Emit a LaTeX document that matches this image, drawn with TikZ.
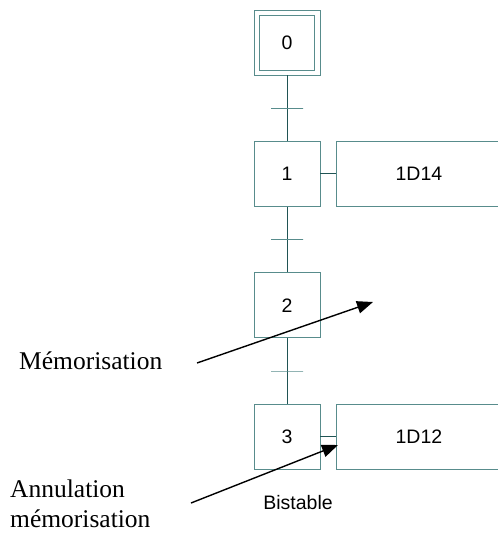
\documentclass[tikz,border=0pt]{standalone}
\usepackage{fontspec}
\setmainfont{Liberation Sans}
\newfontfamily\timesfont{Liberation Serif}
\usetikzlibrary{positioning, arrows.meta, calc}

\definecolor{grafbox}{RGB}{88,140,140}
\definecolor{grafline}{RGB}{32,84,84}

\begin{document}
\begin{tikzpicture}[
    x=1pt, y=-1pt,
    font=\fontsize{19.5}{23}\selectfont,
    stepbox/.style={draw=grafbox, line width=0.9pt, minimum width=66pt,
                    minimum height=65pt, inner sep=0pt},
    actbox/.style={draw=grafbox, line width=0.9pt, minimum width=164pt,
                   minimum height=65pt, inner sep=0pt},
    trans/.style={draw=grafbox, line width=0.9pt, minimum width=32pt,
                  minimum height=0pt, inner sep=0pt},
    link/.style={draw=grafline, line width=0.9pt},
    note/.style={font=\timesfont\fontsize{25.5}{30}\selectfont, inner sep=0pt,
                 align=left},
    callout/.style={-{Triangle[length=16pt, width=12.5pt]}, line width=1.4pt},
    node distance=65.5pt and 16pt,
  ]
  \useasboundingbox (0,0) rectangle (498,533);

  % initial step (double frame)
  \node[stepbox, minimum width=55pt, minimum height=55pt] (s0) at (287,42.5) {0};
  \node[stepbox] (s0o) at (s0) {};

  \node[stepbox, below=of s0o] (s1) {1};
  \node[stepbox, below=of s1] (s2) {2};
  \node[stepbox, below=of s2] (s3) {3};

  \node[actbox, right=of s1] (a1) {1D14};
  \node[actbox, right=of s3] (a3) {1D12};

  \draw[link] (s0o) -- (s1);
  \draw[link] (s1) -- (s2);
  \draw[link] (s2) -- (s3);
  \draw[link] (s1) -- (a1);
  \draw[link] (s3) -- (a3);

  % transitions
  \node[trans] (t1) at ($(s0o.south)!.5!(s1.north)$) {};
  \node[trans] (t2) at ($(s1.south)!.5!(s2.north)$) {};
  \node[trans] (t3) at ($(s2.south)!.5!(s3.north)$) {};

  \node[anchor=base, inner sep=0pt] (bist) at ([xshift=11pt, yshift=-40pt]s3.south) {Bistable};

  % comments
  \node[note, anchor=base west] (memo) at (19,369) {Mémorisation};
  \node[note, anchor=north west] (annul) at (10,480) {Annulation\\mémorisation};

  \coordinate (memtail) at (197,363);
  \coordinate (memhead) at (373,302);
  \coordinate (anntail) at (191,503);
  \coordinate (annhead) at (338,445);
  \draw[callout] (memtail) -- (memhead);
  \draw[callout] (anntail) -- (annhead);
\end{tikzpicture}
\end{document}
